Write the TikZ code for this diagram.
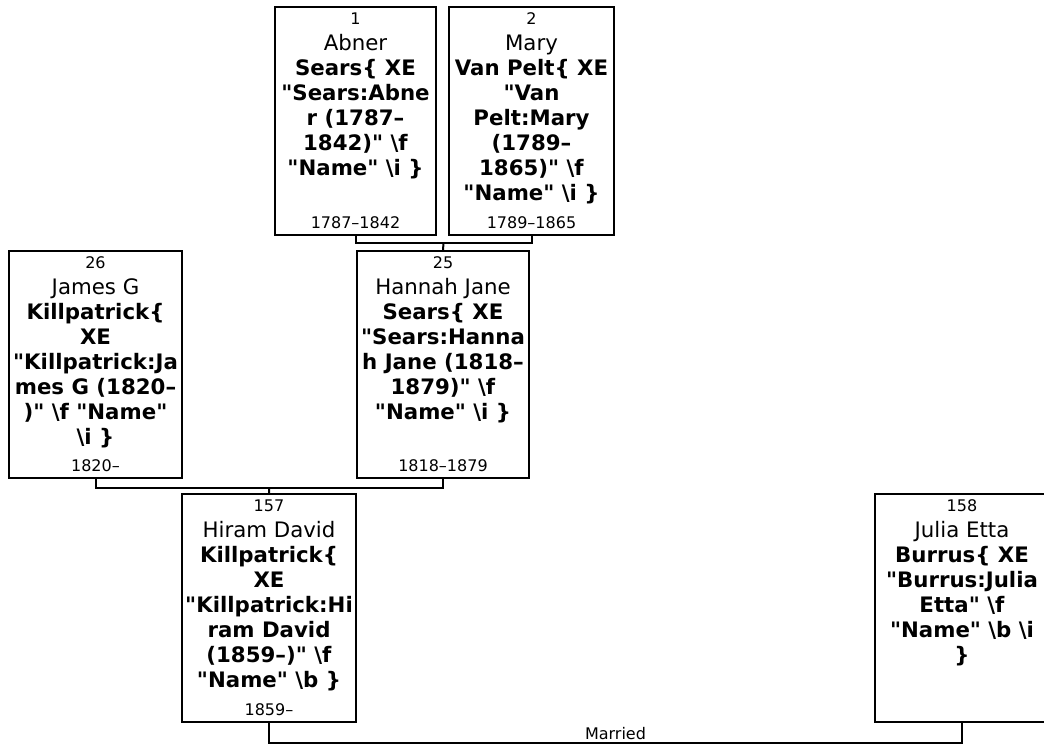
\documentclass[tikz,border=0pt]{standalone}
\usepackage{fontspec}
\setmainfont{DejaVu Sans}[Ligatures=TeXOff]
\usetikzlibrary{calc}
\newcommand\bs{\textbackslash}
\newcommand\q{\symbol{34}}
\newcommand\personText[4]{%
  \node[numtxt, anchor=base] (#1n) at ([yshift=-18.3pt]#1.north) {#2};
  \node[nametxt, anchor=north] (#1t) at ([yshift=-27pt]#1.north) {\rule{0pt}{17pt}#3\\#4};
}
\newcommand\personDate[2]{%
  \node[numtxt, anchor=base] (#1d) at ([yshift=8pt]#1.south) {#2};
}
\begin{document}
\begin{tikzpicture}[x=1pt, y=-1pt,
  pbox/.style={draw=black, line width=2pt, fill=white, inner sep=0pt},
  numtxt/.style={font=\fontsize{16}{19}\selectfont, inner sep=0pt},
  nametxt/.style={font=\fontsize{21.3}{25}\selectfont, align=center, inner sep=0pt},
  link/.style={draw=black, line width=2pt},
  lbl/.style={font=\fontsize{16}{19}\selectfont, inner sep=0pt}]
\useasboundingbox (0,0) rectangle (1044,744);
% boxes
\node[pbox, minimum width=161pt, minimum height=228pt] (p1) at (355.5,121) {};
\node[pbox, minimum width=165pt, minimum height=228pt] (p2) at (531.5,121) {};
\node[pbox, minimum width=173pt, minimum height=227pt] (p26) at (95.5,364.5) {};
\node[pbox, minimum width=172pt, minimum height=227pt] (p25) at (443,364.5) {};
\node[pbox, minimum width=174pt, minimum height=228pt] (p157) at (269,608) {};
\node[pbox, minimum width=174pt, minimum height=228pt] (p158) at (962,608) {};
% texts
\personText{p1}{1}{Abner}{\textbf{Sears\{ XE}\\\textbf{\q Sears:Abne}\\\textbf{r (1787–}\\\textbf{1842)\q{} \bs f}\\\textbf{\q Name\q{} \bs i \}}}
\personDate{p1}{1787–1842}
\personText{p2}{2}{Mary}{\textbf{Van Pelt\{ XE}\\\textbf{\q Van}\\\textbf{Pelt:Mary}\\\textbf{(1789–}\\\textbf{1865)\q{} \bs f}\\\textbf{\q Name\q{} \bs i \}}}
\personDate{p2}{1789–1865}
\personText{p26}{26}{James G}{\textbf{Killpatrick\{}\\\textbf{XE}\\\textbf{\q Killpatrick:Ja}\\\textbf{mes G (1820–}\\\textbf{)\q{} \bs f \q Name\q}\\\textbf{\bs i \}}}
\personDate{p26}{1820–}
\personText{p25}{25}{Hannah Jane}{\textbf{Sears\{ XE}\\\textbf{\q Sears:Hanna}\\\textbf{h Jane (1818–}\\\textbf{1879)\q{} \bs f}\\\textbf{\q Name\q{} \bs i \}}}
\personDate{p25}{1818–1879}
\personText{p157}{157}{Hiram David}{\textbf{Killpatrick\{}\\\textbf{XE}\\\textbf{\q Killpatrick:Hi}\\\textbf{ram David}\\\textbf{(1859–)\q{} \bs f}\\\textbf{\q Name\q{} \bs b \}}}
\personDate{p157}{1859–}
\personText{p158}{158}{Julia Etta}{\textbf{Burrus\{ XE}\\\textbf{\q Burrus:Julia}\\\textbf{Etta\q{} \bs f}\\\textbf{\q Name\q{} \bs b \bs i}\\\textbf{\}}}
% connectors
\coordinate (m1) at ($(p1.south)!0.5!(p2.south)+(0,7)$);
\draw[link] (p1.south) -- ++(0,7) -| (p2.south);
\draw[link] (m1) -- (p25.north);
\coordinate (m2) at ($(p26.south)!0.5!(p25.south)+(0,9)$);
\draw[link] (p26.south) -- ++(0,9) -| (p25.south);
\draw[link] (m2) -- (p157.north);
\coordinate (m3) at ($(p157.south)!0.5!(p158.south)+(0,20)$);
\draw[link] (p157.south) -- ++(0,20) -| (p158.south);
\node[lbl, anchor=base] (married) at ([yshift=4pt]m3) {Married};
\end{tikzpicture}
\end{document}
